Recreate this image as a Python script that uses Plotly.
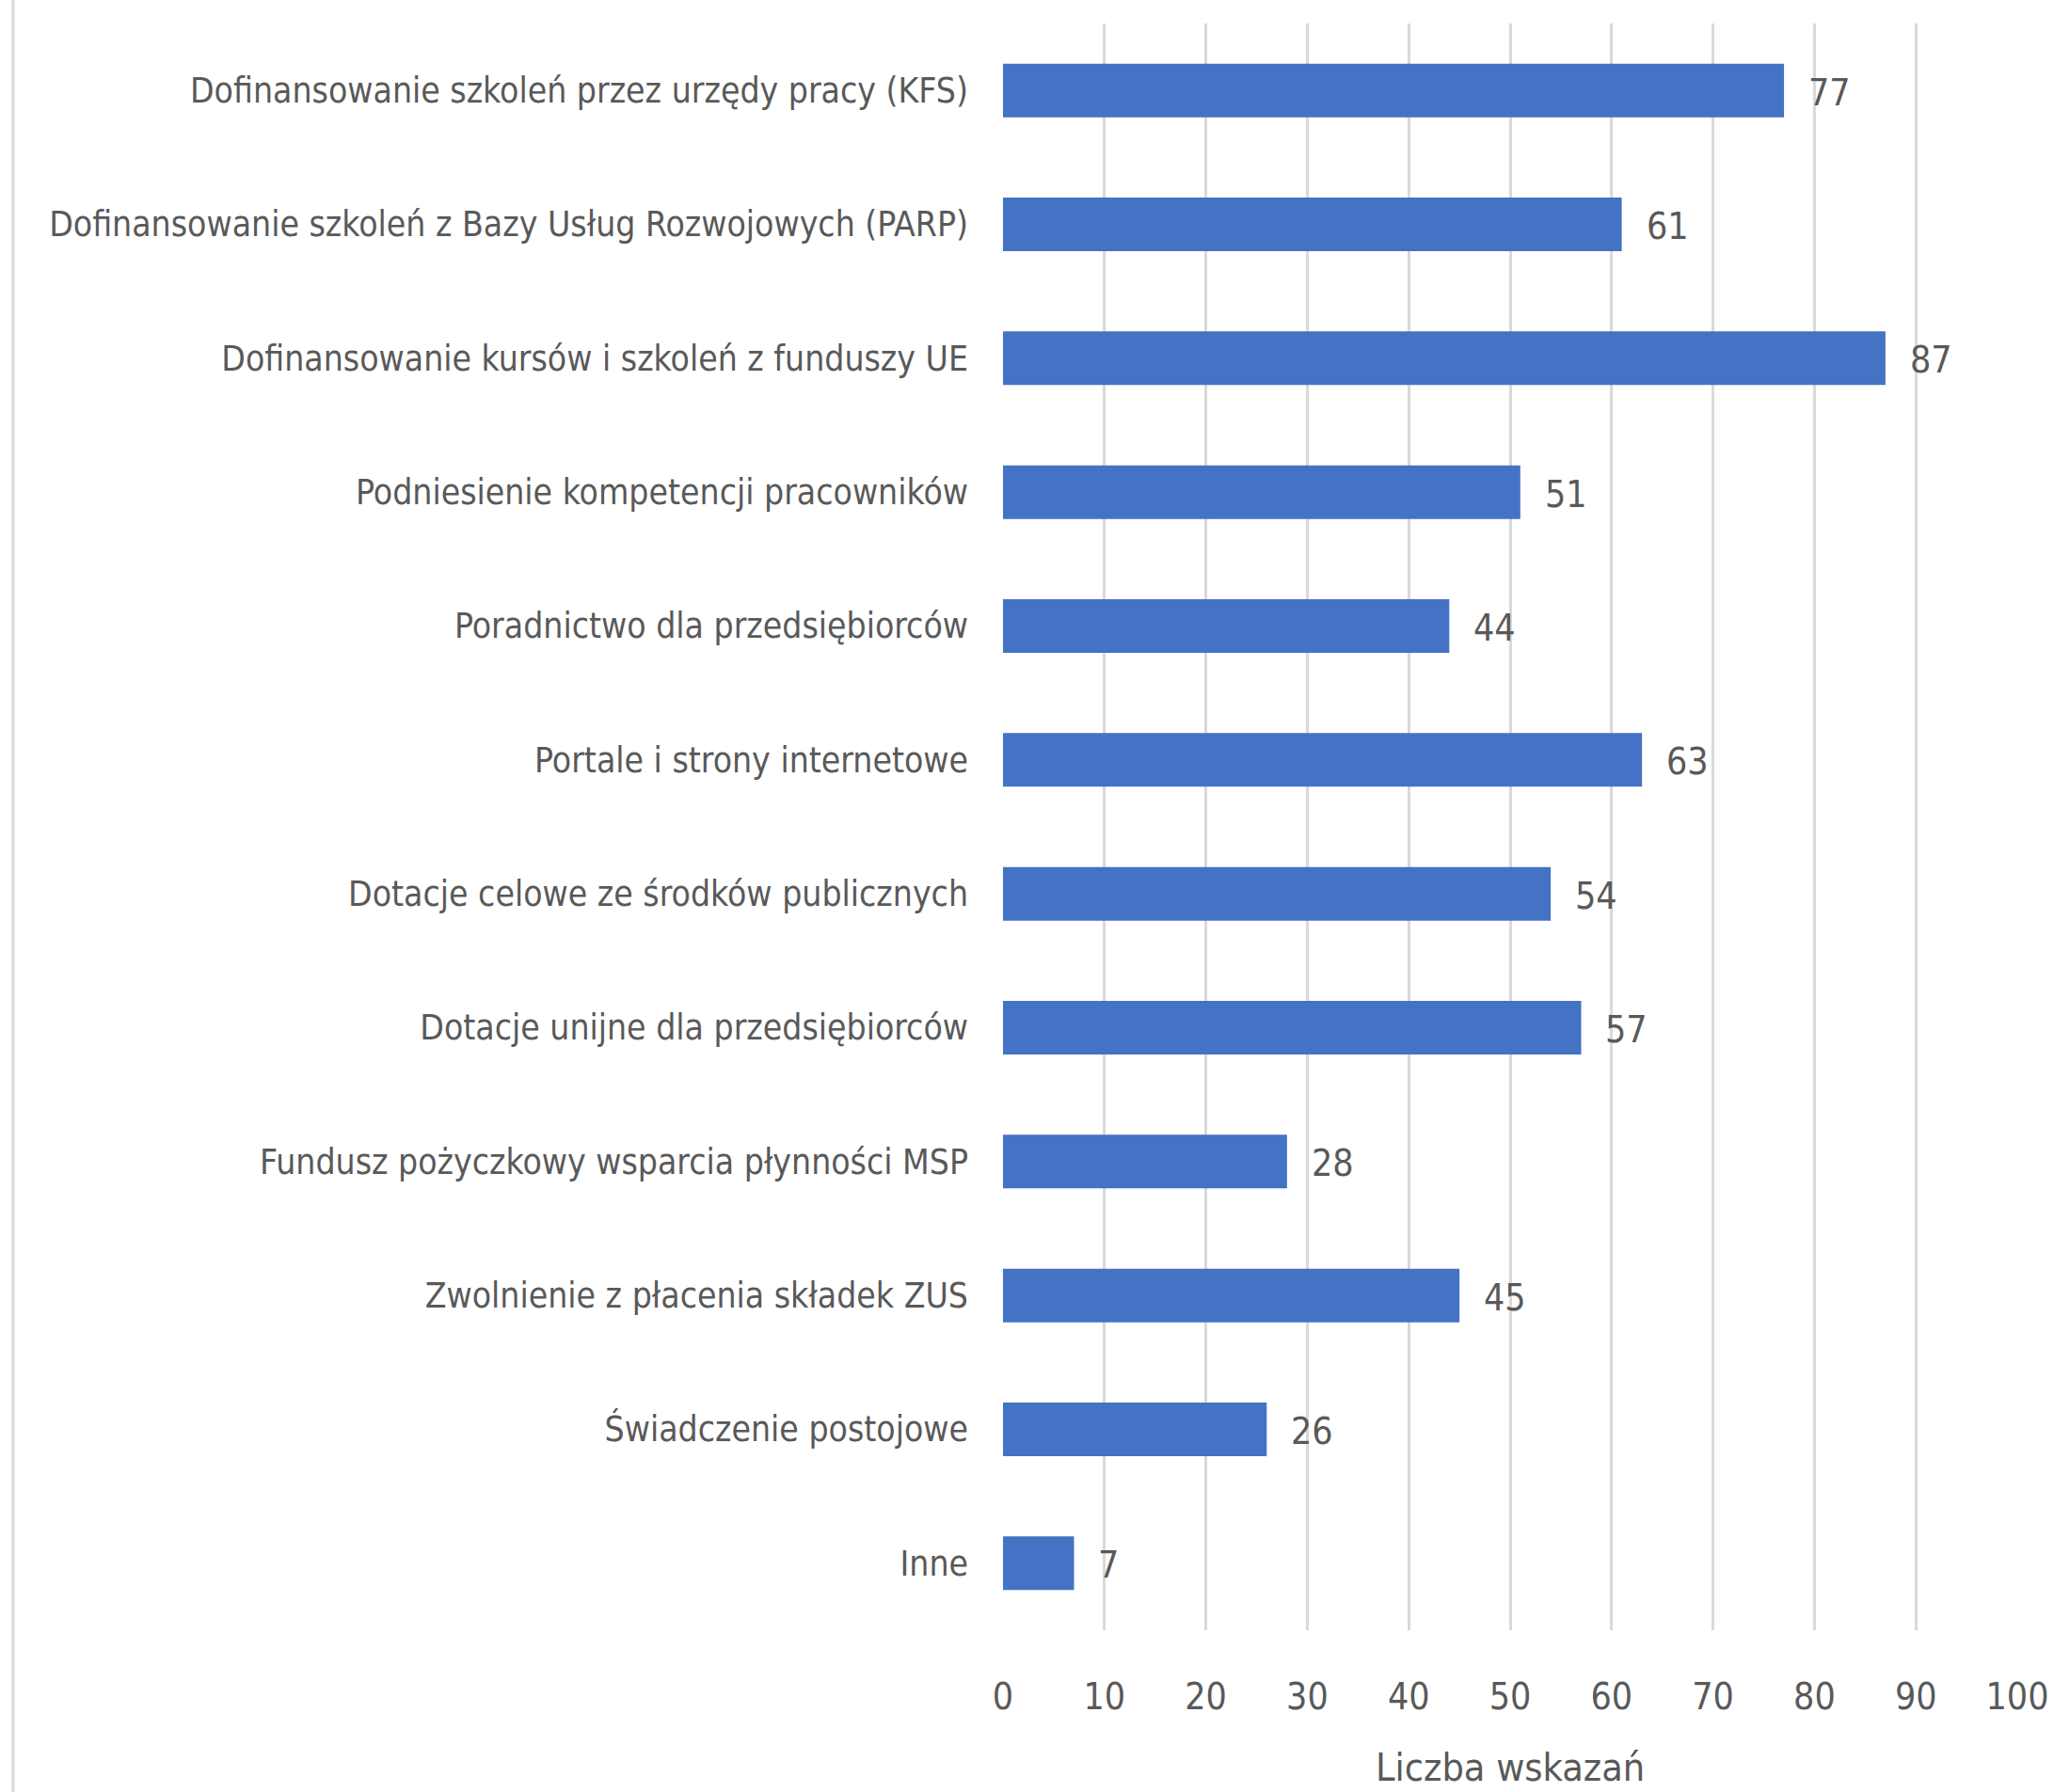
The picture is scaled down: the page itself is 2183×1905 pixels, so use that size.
import plotly.graph_objects as go

categories = [
    "Dofinansowanie szkoleń przez urzędy pracy (KFS)",
    "Dofinansowanie szkoleń z Bazy Usług Rozwojowych (PARP)",
    "Dofinansowanie kursów i szkoleń z funduszy UE",
    "Podniesienie kompetencji pracowników",
    "Poradnictwo dla przedsiębiorców",
    "Portale i strony internetowe",
    "Dotacje celowe ze środków publicznych",
    "Dotacje unijne dla przedsiębiorców",
    "Fundusz pożyczkowy wsparcia płynności MSP",
    "Zwolnienie z płacenia składek ZUS",
    "Świadczenie postojowe",
    "Inne",
]
values = [77, 61, 87, 51, 44, 63, 54, 57, 28, 45, 26, 7]
x_ticks = [0, 10, 20, 30, 40, 50, 60, 70, 80, 90, 100]
x_title = "Liczba wskazań"

FONT = "DejaVu Sans Condensed, sans-serif"
GREY = "#595959"

fig = go.Figure()
fig.add_trace(go.Bar(
    x=values, y=categories, orientation="h",
    marker=dict(color="#4472C4", line=dict(width=0)),
    hoverinfo="x+y",
))

for c, v in zip(categories, values):
    fig.add_annotation(x=v, y=c, xref="x", yref="y", text=str(v),
                       showarrow=False, xanchor="left", xshift=24, yshift=-2,
                       font=dict(family=FONT, size=39, color=GREY))

fig.add_annotation(x=0.5, y=-0.07, xref="paper", yref="paper", text=x_title,
                   showarrow=False, xanchor="center", yanchor="top",
                   font=dict(family=FONT, size=41, color=GREY))

fig.add_shape(type="line", xref="paper", yref="paper",
              x0=-0.976, x1=-0.976, y0=-0.11, y1=1.02,
              line=dict(color="#D9D9D9", width=3))

fig.update_layout(
    width=2183, height=1905,
    margin=dict(l=1066, r=39, t=25, b=172),
    paper_bgcolor="white", plot_bgcolor="white",
    bargap=0.6, showlegend=False,
    font=dict(family=FONT, color=GREY, size=37),
)
fig.update_xaxes(
    range=[0, 100], tickvals=x_ticks, ticktext=[str(t) for t in x_ticks],
    showgrid=True, gridcolor="#D9D9D9", gridwidth=3,
    zeroline=False, showline=False, ticks="",
    tickfont=dict(family=FONT, size=39, color=GREY),
    ticklabelstandoff=44, automargin=False,
)
fig.update_yaxes(
    categoryorder="array", categoryarray=categories, autorange="reversed",
    showgrid=False, zeroline=False, showline=False, ticks="",
    tickfont=dict(family=FONT, size=37, color=GREY),
    ticklabelstandoff=36, automargin=False,
)

fig.write_html("out.html")
